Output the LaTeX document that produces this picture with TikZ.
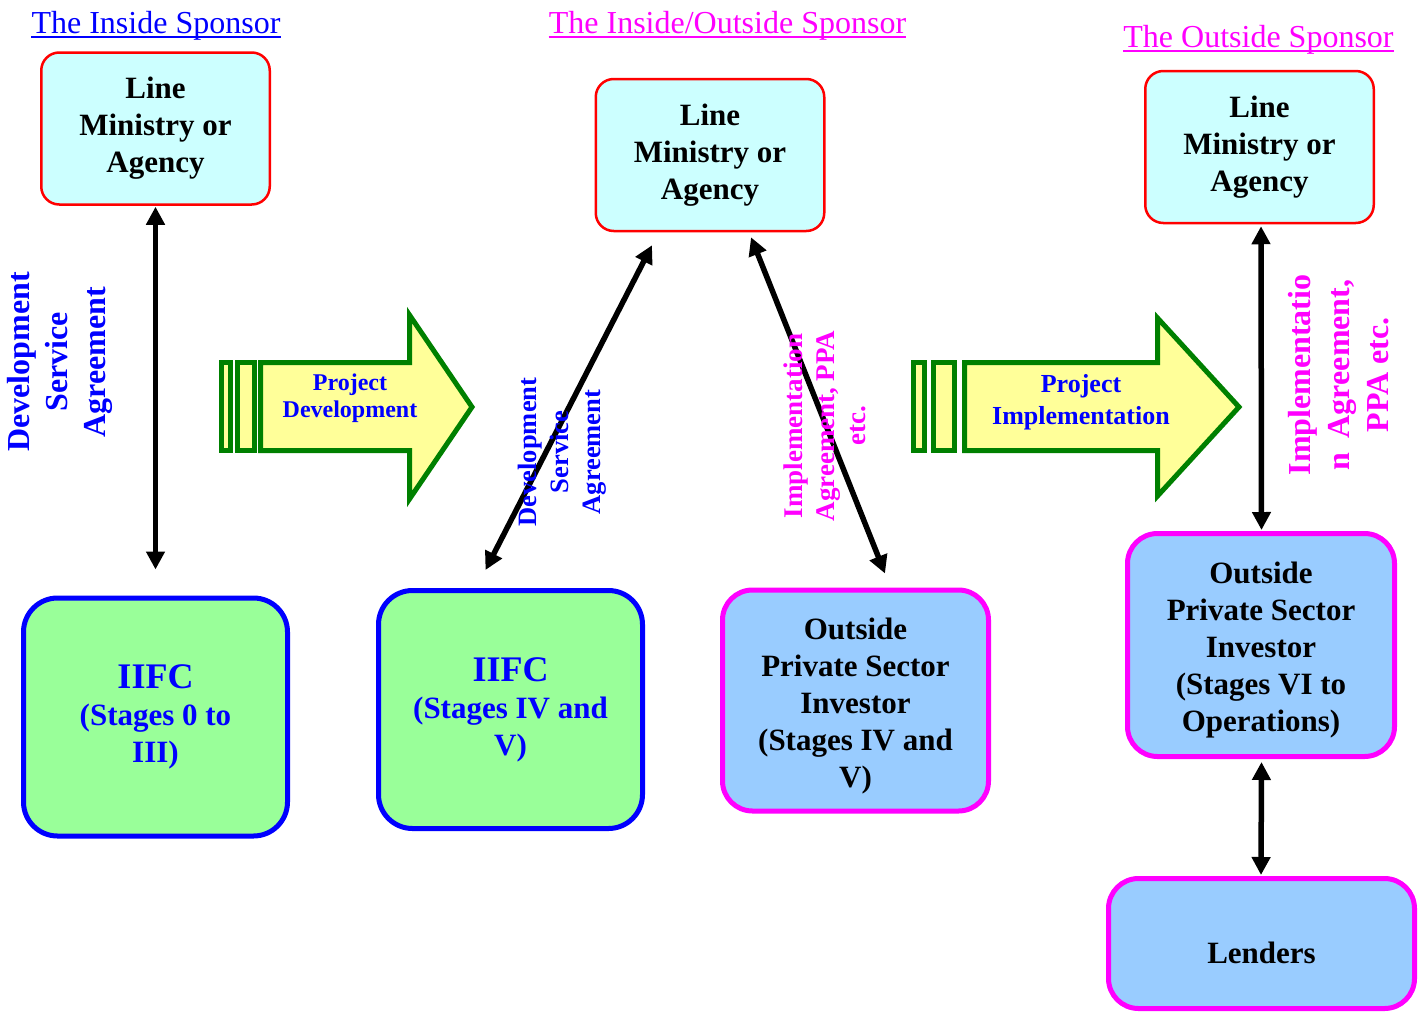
\documentclass[tikz,border=0pt]{standalone}
\usepackage{fontspec}
\setmainfont{Liberation Serif}
\usetikzlibrary{arrows.meta}
\definecolor{cybox}{RGB}{204,255,255}
\definecolor{grbox}{RGB}{153,255,153}
\definecolor{blbox}{RGB}{153,204,255}
\definecolor{arrfill}{RGB}{255,255,153}
\definecolor{arrline}{RGB}{0,128,0}
\definecolor{mag}{RGB}{255,0,255}
\definecolor{pblue}{RGB}{0,0,255}
\tikzset{
  x=1pt, y=-1pt,
  boxtext/.style={font=\bfseries\fontsize{31}{37}\selectfont, align=center, inner sep=0pt},
  lmbox/.style={boxtext, draw=red, line width=2.5pt, fill=cybox, rounded corners=18pt,
     minimum width=228.5pt, minimum height=152pt},
  iifcbox/.style={boxtext, text=pblue, draw=pblue, line width=5pt, fill=grbox, rounded corners=34pt,
     minimum width=264pt, minimum height=238pt},
  opbox/.style={boxtext, draw=mag, line width=5pt, fill=blbox, rounded corners=30pt,
     minimum width=266pt, minimum height=221pt},
  hdr/.style={font=\fontsize{32}{38}\selectfont, anchor=base, inner sep=0pt},
  dbl/.style={line width=5.5pt, {Triangle[width=18pt,length=18pt]}-{Triangle[width=18pt,length=18pt]}},
  blockarr/.style={draw=arrline, line width=5pt, fill=arrfill, miter limit=10},
  vlab/.style={rotate=90, align=center, inner sep=0pt, font=\bfseries},
}
\begin{document}
\begin{tikzpicture}
\useasboundingbox (0,0) rectangle (1424,1012);

% headers
\node[hdr, text=pblue] (h1) at (156,33) {The Inside Sponsor};
\draw[pblue, line width=1.3pt] ([yshift=-4pt]h1.base west) -- ([yshift=-4pt]h1.base east);
\node[hdr, text=mag] (h2) at (727.5,33) {The Inside/Outside Sponsor};
\draw[mag, line width=1.3pt] ([yshift=-4pt]h2.base west) -- ([yshift=-4pt]h2.base east);
\node[hdr, text=mag] (h3) at (1258.5,47) {The Outside Sponsor};
\draw[mag, line width=1.3pt] ([yshift=-4pt]h3.base west) -- ([yshift=-4pt]h3.base east);

% boxes
\node[lmbox] (lm1) at (155.5,128.5) {Line\\Ministry or\\Agency};
\node[lmbox] (lm2) at (710,155) {Line\\Ministry or\\Agency};
\node[lmbox] (lm3) at (1259.5,147) {Line\\Ministry or\\Agency};

\node[iifcbox] (iifc1) at (155.5,717) {{\fontsize{36}{40}\selectfont IIFC}\\(Stages 0 to\\III)};
\node[iifcbox] (iifc2) at (510.5,709.5) {{\fontsize{36}{40}\selectfont IIFC}\\(Stages IV and\\V)};

\node[opbox] (op1) at (855.5,700.5) {\rule{0pt}{33pt}Outside\\Private Sector\\Investor\\(Stages IV and\\V)};
\node[opbox, minimum width=267pt, minimum height=223pt] (op2) at (1261,645) {\rule{0pt}{32pt}Outside\\Private Sector\\Investor\\(Stages VI to\\Operations)};
\node[opbox, minimum width=306pt, minimum height=130pt] (lend) at (1261.5,943.5) {\rule{0pt}{41pt}Lenders};

% connectors
\draw[dbl] ([yshift=-1pt]lm1.south) -- ([yshift=26pt]iifc1.north);
\draw[dbl] ([shift={(-58,13)}]lm2.south) -- ([shift={(-25,-18)}]iifc2.north);
\draw[dbl] ([shift={(41,5)}]lm2.south) -- ([shift={(29.5,-14)}]op1.north);
\draw[dbl] ([shift={(1.5,2)}]lm3.south) -- ([shift={(0.5,-1)}]op2.north);
\draw[dbl] ([shift={(0.5,3)}]op2.south) -- ([shift={(-0.5,-1)}]lend.north);

% block arrow 1
\draw[blockarr] (221.5,362.5) rectangle (230.5,450.5);
\draw[blockarr] (237.5,362.5) rectangle (254.5,450.5);
\draw[blockarr] (260.5,362.5) -- (409.5,362.5) -- (409.5,315) -- (472,407) -- (409.5,499) -- (409.5,450.5) -- (260.5,450.5) -- cycle;
\node[font=\bfseries\fontsize{24}{27}\selectfont, text=pblue, align=center, inner sep=0pt] (ba1) at (350,398) {Project\\Development};

% block arrow 2
\draw[blockarr] (913.5,362.5) rectangle (924.5,450.5);
\draw[blockarr] (933.5,362.5) rectangle (954.5,450.5);
\draw[blockarr] (964.5,362.5) -- (1157.5,362.5) -- (1157.5,318) -- (1239,407) -- (1157.5,496) -- (1157.5,450.5) -- (964.5,450.5) -- cycle;
\node[font=\bfseries\fontsize{26}{32}\selectfont, text=pblue, align=center, inner sep=0pt] (ba2) at (1081,402) {Project\\Implementation};

% rotated labels
\node[vlab, text=pblue, font=\bfseries\fontsize{32}{38}\selectfont] (l1) at (60,362) {Development\\Service\\Agreement};
\node[vlab, text=pblue, font=\bfseries\fontsize{26.5}{32}\selectfont] (l2) at (562,452) {Development\\Service\\Agreement};
\node[vlab, text=mag, font=\bfseries\fontsize{27}{31.5}\selectfont] (l3) at (825,426) {Implementation\\Agreement, PPA\\etc.};
\node[vlab, text=mag, font=\bfseries\fontsize{32}{39}\selectfont] (l4) at (1339,375) {Implementatio\\n\hspace{0.45em}Agreement,\\PPA etc.};
\end{tikzpicture}
\end{document}
